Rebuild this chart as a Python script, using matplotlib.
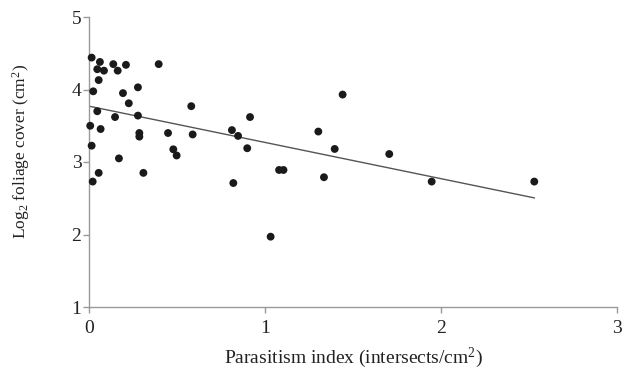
import numpy as np
import matplotlib
matplotlib.use('Agg')
import matplotlib.pyplot as plt

plt.rcParams['font.family'] = 'Liberation Serif'
plt.rcParams['mathtext.fontset'] = 'custom'
plt.rcParams['mathtext.rm'] = 'Liberation Serif'
plt.rcParams['mathtext.it'] = 'Liberation Serif:italic'

# parasitism index (x) and log2 foliage cover (y)
parasitism = [0.015, 0.062, 0.047, 0.085, 0.138, 0.163, 0.21, 0.396, 0.055, 0.024,
              0.193, 0.278, 0.226, 0.581, 0.047, 0.148, 0.278, 0.915, 0.007, 0.066,
              0.286, 0.286, 0.449, 0.589, 0.812, 0.847, 0.015, 0.479, 0.498, 0.899,
              0.17, 0.055, 0.309, 0.021, 0.82, 1.08, 1.105, 1.441, 1.303, 1.396,
              1.706, 1.335, 1.947, 2.53, 1.032]
foliage = [4.44, 4.38, 4.28, 4.26, 4.35, 4.26, 4.34, 4.35, 4.13, 3.975,
           3.95, 4.03, 3.81, 3.77, 3.70, 3.62, 3.64, 3.62, 3.50, 3.455,
           3.40, 3.35, 3.40, 3.38, 3.44, 3.36, 3.225, 3.175, 3.09, 3.19,
           3.05, 2.85, 2.85, 2.73, 2.71, 2.89, 2.89, 3.93, 3.42, 3.18,
           3.11, 2.79, 2.73, 2.73, 1.97]

# regression line
intercept = 3.77
slope = -0.5

xticks = [0, 1, 2, 3]
yticks = [1, 2, 3, 4, 5]

fig = plt.figure(figsize=(6.34, 3.74), dpi=100)
ax = fig.add_axes([89/634, 1-307/374, 528/634, 290/374])

ax.scatter(parasitism, foliage, s=32, color='#1a1a1a', edgecolors='none', zorder=3, clip_on=False)
xl = np.array([min(parasitism), max(parasitism)])
ax.plot(xl, intercept + slope*xl, color='#555555', lw=1.0, zorder=2)

ax.set_xlim(0, 3)
ax.set_ylim(1, 5)
ax.set_xticks(xticks)
ax.set_yticks(yticks)
for s in ['top', 'right']:
    ax.spines[s].set_visible(False)
for s in ['left', 'bottom']:
    ax.spines[s].set_color('#999999')
    ax.spines[s].set_linewidth(1.0)
ax.tick_params(axis='both', colors='#999999', labelcolor='#222222', labelsize=14, length=4.5, width=1.0)
ax.tick_params(axis='x', pad=5)
ax.tick_params(axis='y', pad=1)

ax.set_xlabel(r'Parasitism index (intersects/cm$^2$)', fontsize=14, color='#222222', labelpad=6)
ax.set_ylabel(r'Log$_2$ foliage cover (cm$^2$)', fontsize=12.5, color='#222222', va='center')
ax.yaxis.set_label_coords(-68/528, 0.538)

fig.savefig('out.png', dpi=100)
